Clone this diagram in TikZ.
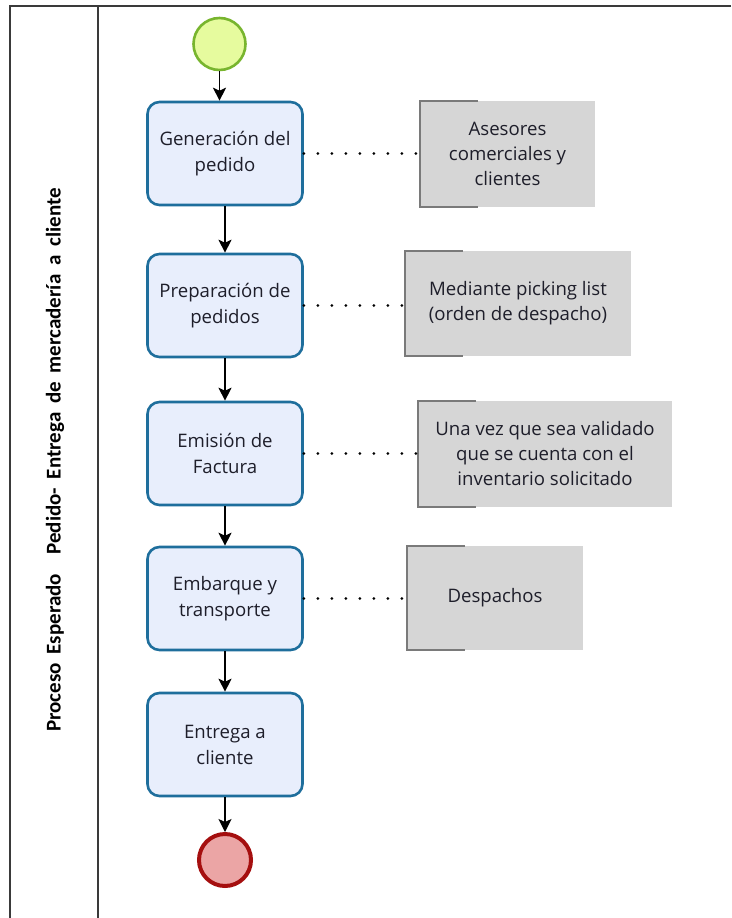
\documentclass[tikz,border=0pt]{standalone}
\usepackage{fontspec}
\setmainfont{Open Sans}
\newfontfamily\lanefont{Carlito}
\usetikzlibrary{arrows.meta}

\definecolor{taskfill}{HTML}{E8EEFC}
\definecolor{taskline}{HTML}{1E6E9C}
\definecolor{startfill}{HTML}{E6FB9E}
\definecolor{startline}{HTML}{78B52E}
\definecolor{endfill}{HTML}{EBA5A5}
\definecolor{endline}{HTML}{A50F0F}
\definecolor{notefill}{HTML}{D6D6D6}
\definecolor{noteline}{HTML}{7A7A7A}
\definecolor{frameline}{HTML}{3A3A3A}
\definecolor{textcol}{HTML}{1E1E2A}

\tikzset{
  task/.style={draw=taskline, line width=2.6pt, fill=taskfill, rounded corners=12pt,
    minimum width=155pt, minimum height=103pt, align=center, inner sep=0pt,
    font=\fontsize{18.6}{26}\selectfont, text=textcol},
  note/.style={fill=notefill, align=center, inner sep=0pt,
    font=\fontsize{18.6}{25}\selectfont, text=textcol},
  flow/.style={draw=black, line width=1.5pt, -{Stealth[length=13pt, width=13pt, inset=3pt]}},
  assoc/.style={draw=black, line width=3pt, line cap=round, dash pattern=on 0pt off 14pt},
  bracket/.style={draw=noteline, line width=1.6pt},
  frame/.style={draw=frameline, line width=2pt}
}

\newcommand{\notebracket}[1]{%
  \draw[bracket] ([xshift=58pt]#1.north west) -- (#1.north west) -- (#1.south west) -- ([xshift=58pt]#1.south west);}

\begin{document}
\begin{tikzpicture}[x=1pt,y=-1pt]
\useasboundingbox (0,0) rectangle (731,918);
\fill[white] (0,0) rectangle (731,918);

% pool frame and lane header
\draw[frame] (731,6) -- (10,6) -- (10,918);
\draw[frame] (98,6) -- (98,918);
\node[rotate=90, font=\lanefont\bfseries\fontsize{21}{24}\selectfont] (lane) at (55,460)
  {\spaceskip=0.42em Proceso Esperado\hspace{0.5em} Pedido- Entrega de mercadería a cliente};

% events
\node[circle, draw=startline, line width=2.6pt, fill=startfill, minimum size=52pt, inner sep=0pt] (start) at (219.5,44) {};
\node[circle, draw=endline, line width=4pt, fill=endfill, minimum size=52pt, inner sep=0pt] (end) at (225,860) {};

% tasks
\node[task] (t1) at (225,153.5) {Generación del\\pedido};
\node[task] (t2) at (225,305.5) {Preparación de\\pedidos};
\node[task] (t3) at (225,453.5) {Emisión de\\Factura};
\node[task] (t4) at (225,598.5) {Embarque y\\transporte};
\node[task] (t5) at (225,744.5) {Entrega a\\cliente};

% annotations
\node[note, minimum width=175pt, minimum height=106pt] (a1) at (507.5,154) {Asesores\\comerciales y\\clientes};
\node[note, minimum width=226pt, minimum height=105pt] (a2) at (518,303.5) {Mediante picking list\\(orden de despacho)};
\node[note, minimum width=254pt, minimum height=106pt] (a3) at (545,454) {Una vez que sea validado\\que se cuenta con el\\inventario solicitado};
\node[note, minimum width=176pt, minimum height=104pt] (a4) at (495,598) {Despachos};
\notebracket{a1}
\notebracket{a2}
\notebracket{a3}
\notebracket{a4}

% sequence flows
\draw[flow] (start.south) -- (start.south |- t1.north);
\draw[flow] (t1.south) -- (t2.north);
\draw[flow] (t2.south) -- (t3.north);
\draw[flow] (t3.south) -- (t4.north);
\draw[flow] (t4.south) -- (t5.north);
\draw[flow] (t5.south) -- (end.north);

% associations
\draw[assoc] (t1.east) -- (t1.east -| a1.west);
\draw[assoc] (t2.east) -- (t2.east -| a2.west);
\draw[assoc] (t3.east) -- (t3.east -| a3.west);
\draw[assoc] (t4.east) -- (t4.east -| a4.west);
\end{tikzpicture}
\end{document}
